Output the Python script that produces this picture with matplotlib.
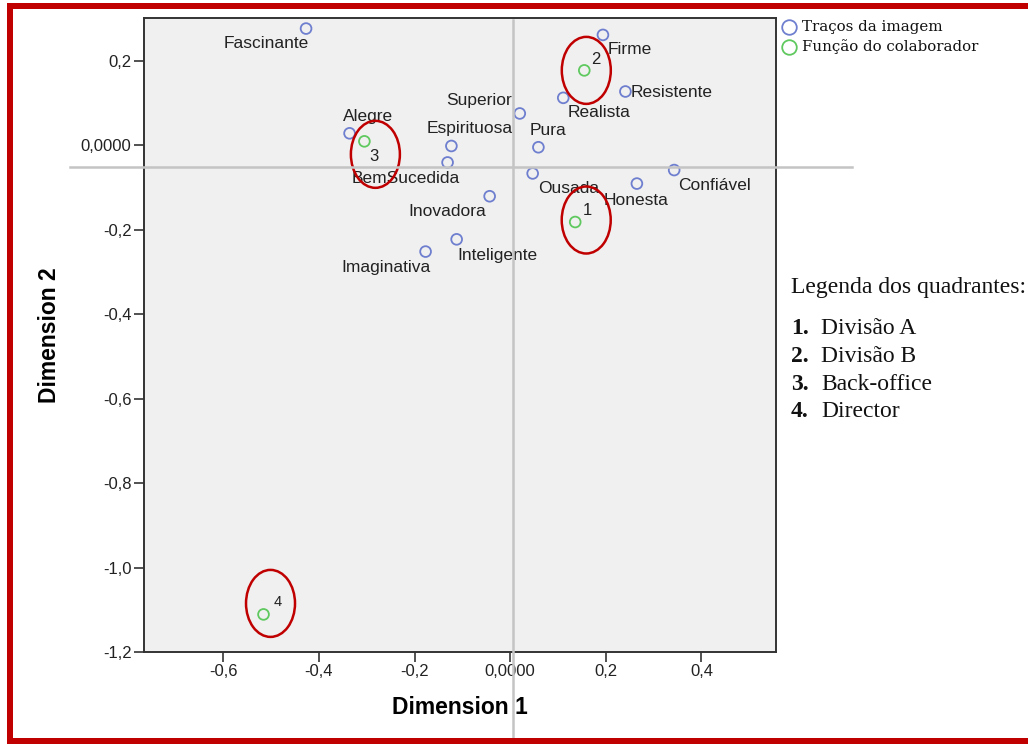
import matplotlib
matplotlib.use("Agg")
import matplotlib.pyplot as plt
from matplotlib.patches import Ellipse, Rectangle
from matplotlib.lines import Line2D
import matplotlib.transforms as mtransforms

# Correspondence analysis: image traits vs. employee role
traits = ["Fascinante", "Firme", "Resistente", "Realista", "Superior", "Alegre",
          "Espirituosa", "Pura", "BemSucedida", "Ousada", "Confiável", "Honesta",
          "Inovadora", "Inteligente", "Imaginativa"]
trait_x = [-0.427, 0.194, 0.241, 0.111, 0.020, -0.336, -0.123, 0.059, -0.131,
           0.047, 0.343, 0.265, -0.043, -0.112, -0.177]
trait_y = [0.276, 0.261, 0.127, 0.112, 0.075, 0.028, -0.002, -0.005, -0.041,
           -0.067, -0.059, -0.091, -0.121, -0.223, -0.252]

roles = ["1", "2", "3", "4"]
role_x = [0.136, 0.155, -0.305, -0.516]
role_y = [-0.182, 0.177, 0.009, -1.111]
role_names = ["Divisão A", "Divisão B", "Back-office", "Director"]

series_names = ["Traços da imagem", "Função do colaborador"]

x_ticks = [-0.6, -0.4, -0.2, 0.0, 0.2, 0.4]
x_tick_labels = ["-0,6", "-0,4", "-0,2", "0,0000", "0,2", "0,4"]
y_ticks = [0.2, 0.0, -0.2, -0.4, -0.6, -0.8, -1.0, -1.2]
y_tick_labels = ["0,2", "0,0000", "-0,2", "-0,4", "-0,6", "-0,8", "-1,0", "-1,2"]

# label placement (ha, dx px, dy px)
trait_label_pos = {
    "Fascinante": ("center", -40, -15),
    "Firme": ("left", 5, -15),
    "Resistente": ("left", 5, -1),
    "Realista": ("left", 4, -15),
    "Superior": ("right", -8, 13),
    "Alegre": ("center", 18, 17),
    "Espirituosa": ("center", 18, 17),
    "Pura": ("left", -9, 17),
    "BemSucedida": ("center", -42, -16),
    "Ousada": ("center", 36, -15),
    "Confiável": ("left", 4, -15),
    "Honesta": ("center", -1, -17),
    "Inovadora": ("center", -42, -15),
    "Inteligente": ("left", 1, -16),
    "Imaginativa": ("center", -40, -16),
}
role_label_off = [(12, 12), (12, 11), (10, -15), (14, 12)]
ellipse_off = [(11, 2), (2, 0), (11, -13), (7, 11)]

W, H, DPI = 1028, 744, 100
fig = plt.figure(figsize=(W / DPI, H / DPI), dpi=DPI)
fig.patch.set_facecolor("white")

ax = fig.add_axes([144 / W, 1 - 652 / H, (776 - 144) / W, (652 - 18) / H])
ax.set_facecolor("#F0F0F0")
ax.set_xlim(-0.766, 0.556)
ax.set_ylim(-1.2, 0.301)

sans = "Liberation Sans"
blue = "#6F7FCF"
green = "#5FC95F"
red = "#C00000"

ax.scatter(trait_x, trait_y, s=60, facecolors="none", edgecolors=blue,
           linewidths=1.3, zorder=3)
ax.scatter(role_x, role_y, s=60, facecolors="none", edgecolors=green,
           linewidths=1.3, zorder=3)

for name, x, y in zip(traits, trait_x, trait_y):
    ha, dx, dy = trait_label_pos[name]
    ax.annotate(name, (x, y), xytext=(dx, dy), textcoords="offset pixels",
                ha=ha, va="center", fontsize=12.5, family=sans, color="#222222",
                zorder=4)

for lab, x, y, (dx, dy) in zip(roles, role_x, role_y, role_label_off):
    ax.annotate(lab, (x, y), xytext=(dx, dy), textcoords="offset pixels",
                ha="center", va="center", fontsize=12 if lab != "4" else 10.5,
                family=sans, color="#222222", zorder=4)

# red rings marking each role
for x, y, (dx, dy) in zip(role_x, role_y, ellipse_off):
    tr = (mtransforms.Affine2D().translate(dx, dy)
          + mtransforms.ScaledTranslation(x, y, ax.transData))
    ax.add_patch(Ellipse((0, 0), 49, 67, transform=tr, fill=False,
                         edgecolor=red, linewidth=1.8, zorder=5))

ax.set_xticks(x_ticks)
ax.set_xticklabels(x_tick_labels)
ax.set_yticks(y_ticks)
ax.set_yticklabels(y_tick_labels)
ax.tick_params(direction="out", length=7, width=1.2, color="#333333",
               labelsize=12, pad=2)
for lbl in ax.get_xticklabels() + ax.get_yticklabels():
    lbl.set_family(sans)
    lbl.set_color("#222222")
for sp in ax.spines.values():
    sp.set_color("#333333")
    sp.set_linewidth(1.4)

ax.set_xlabel("Dimension 1", fontsize=16.5, fontweight="bold", family=sans,
              labelpad=12)
ax.set_ylabel("Dimension 2", fontsize=16.5, fontweight="bold", family=sans,
              labelpad=14)

# quadrant divider lines
fig.add_artist(Line2D([513 / W, 513 / W], [1 - 20 / H, 0], transform=fig.transFigure,
                      color="#C4C4C4", linewidth=1.8, zorder=10))
fig.add_artist(Line2D([70 / W, 852 / W], [1 - 167 / H, 1 - 167 / H],
                      transform=fig.transFigure, color="#C4C4C4", linewidth=1.8,
                      zorder=10))

# series key
serif_key = "DejaVu Serif"
for i, (name, col) in enumerate(zip(series_names, [blue, green])):
    yk = 1 - (27 + 20 * i) / H
    fig.add_artist(Line2D([789 / W], [yk], transform=fig.transFigure, marker="o",
                          markersize=10.5, markerfacecolor="none",
                          markeredgecolor=col, markeredgewidth=1.3, zorder=10))
    fig.text(802 / W, yk, name, ha="left", va="center", fontsize=10.8,
             family=serif_key, color="#111111")

# quadrant key
serif = "Liberation Serif"
fig.text(791 / W, 1 - 288 / H, "Legenda dos quadrantes:", ha="left", va="center",
         fontsize=17, family=serif, color="#111111")
for i, (num, nm) in enumerate(zip(roles, role_names)):
    yk = 1 - (328 + 28 * i) / H
    fig.text(791 / W, yk, num + ".", ha="left", va="center", fontsize=17,
             family=serif, fontweight="bold", color="#111111")
    fig.text(821 / W, yk, nm, ha="left", va="center", fontsize=17,
             family=serif, color="#111111")

# red frame
for rect in [(7, 3, W - 7, 5.5), (7, 3, 5.5, H - 3), (7, 738, W - 7, 6)]:
    x0, y0, w, h = rect
    fig.add_artist(Rectangle((x0 / W, 1 - (y0 + h) / H), w / W, h / H,
                             transform=fig.transFigure, facecolor=red,
                             edgecolor="none", zorder=11))

fig.savefig("out.png", dpi=DPI)
